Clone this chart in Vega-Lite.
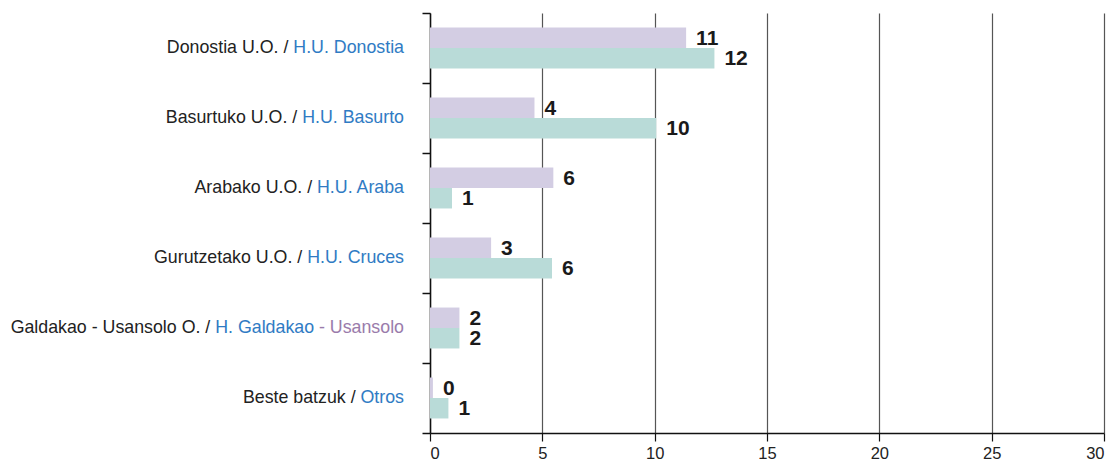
{
  "$schema": "https://vega.github.io/schema/vega-lite/v6.json",
  "autosize": "none",
  "width": 674,
  "height": 420,
  "padding": {"left": 430, "top": 13, "right": 11, "bottom": 29},
  "background": "white",
  "config": {"view": {"stroke": null}, "font": "Liberation Sans"},
  "datasets": {
    "bars": [
      {"cat": "Donostia U.O. / H.U. Donostia", "series": "A", "value": 11.4, "label": "11"},
      {"cat": "Donostia U.O. / H.U. Donostia", "series": "B", "value": 12.66, "label": "12"},
      {"cat": "Basurtuko U.O. / H.U. Basurto", "series": "A", "value": 4.65, "label": "4"},
      {"cat": "Basurtuko U.O. / H.U. Basurto", "series": "B", "value": 10.07, "label": "10"},
      {"cat": "Arabako U.O. / H.U. Araba", "series": "A", "value": 5.49, "label": "6"},
      {"cat": "Arabako U.O. / H.U. Araba", "series": "B", "value": 0.98, "label": "1"},
      {"cat": "Gurutzetako U.O. / H.U. Cruces", "series": "A", "value": 2.72, "label": "3"},
      {"cat": "Gurutzetako U.O. / H.U. Cruces", "series": "B", "value": 5.43, "label": "6"},
      {"cat": "Galdakao - Usansolo O. / H. Galdakao - Usansolo", "series": "A", "value": 1.31, "label": "2"},
      {"cat": "Galdakao - Usansolo O. / H. Galdakao - Usansolo", "series": "B", "value": 1.31, "label": "2"},
      {"cat": "Beste batzuk / Otros", "series": "A", "value": 0.13, "label": "0"},
      {"cat": "Beste batzuk / Otros", "series": "B", "value": 0.82, "label": "1"}
    ],
    "names": [
      {"cat": "Donostia U.O. / H.U. Donostia", "blue": "H.U. Donostia", "purple": ""},
      {"cat": "Basurtuko U.O. / H.U. Basurto", "blue": "H.U. Basurto", "purple": ""},
      {"cat": "Arabako U.O. / H.U. Araba", "blue": "H.U. Araba", "purple": ""},
      {"cat": "Gurutzetako U.O. / H.U. Cruces", "blue": "H.U. Cruces", "purple": ""},
      {"cat": "Galdakao - Usansolo O. / H. Galdakao - Usansolo", "blue": "H. Galdakao - Usansolo", "purple": "- Usansolo"},
      {"cat": "Beste batzuk / Otros", "blue": "Otros", "purple": ""}
    ]
  },
  "encoding": {
    "y": {
      "field": "cat",
      "type": "nominal",
      "scale": {
        "domain": [
          "Donostia U.O. / H.U. Donostia",
          "Basurtuko U.O. / H.U. Basurto",
          "Arabako U.O. / H.U. Araba",
          "Gurutzetako U.O. / H.U. Cruces",
          "Galdakao - Usansolo O. / H. Galdakao - Usansolo",
          "Beste batzuk / Otros"
        ],
        "paddingInner": 0,
        "paddingOuter": 0
      },
      "axis": {
        "title": null,
        "labels": false,
        "tickBand": "extent",
        "ticks": true,
        "tickSize": 8,
        "tickColor": "#111111",
        "tickWidth": 1.5,
        "domainColor": "#111111",
        "domainWidth": 1.5,
        "grid": false
      }
    }
  },
  "layer": [
    {
      "data": {"name": "bars"},
      "mark": {"type": "bar"},
      "encoding": {
        "yOffset": {"field": "series", "type": "nominal", "scale": {"domain": ["A", "B"], "paddingInner": 0, "paddingOuter": 0.71}},
        "x": {
          "field": "value",
          "type": "quantitative",
          "scale": {"domain": [0, 30], "nice": false, "zero": true},
          "axis": {
            "title": null,
            "values": [0, 5, 10, 15, 20, 25, 30],
            "grid": true,
            "gridColor": "#555555",
            "gridWidth": 1.2,
            "domainColor": "#111111",
            "domainWidth": 1.5,
            "tickColor": "#111111",
            "tickSize": 8,
            "tickWidth": 1.2,
            "labelFontSize": 16.5,
            "labelColor": "#222222",
            "labelPadding": 4,
            "labelFont": "Liberation Sans"
          }
        },
        "color": {
          "field": "series",
          "type": "nominal",
          "scale": {"domain": ["A", "B"], "range": ["#d3cde3", "#b9dbd8"]},
          "legend": null
        }
      }
    },
    {
      "data": {"name": "bars"},
      "mark": {"type": "text", "align": "left", "baseline": "middle", "dx": 10, "dy": 1, "fontSize": 21, "fontWeight": "bold", "color": "#1a1a1a", "font": "Liberation Sans"},
      "encoding": {
        "yOffset": {"field": "series", "type": "nominal"},
        "x": {"field": "value", "type": "quantitative"},
        "text": {"field": "label"}
      }
    },
    {
      "data": {"name": "names"},
      "mark": {"type": "text", "align": "right", "baseline": "middle", "dx": -26, "fontSize": 17.8, "color": "#222222", "font": "Liberation Sans"},
      "encoding": {
        "x": {"datum": 0},
        "text": {"field": "cat"}
      }
    },
    {
      "data": {"name": "names"},
      "mark": {"type": "text", "align": "right", "baseline": "middle", "dx": -26, "fontSize": 17.8, "color": "white", "stroke": "white", "strokeWidth": 1.6, "font": "Liberation Sans"},
      "encoding": {
        "x": {"datum": 0},
        "text": {"field": "blue"}
      }
    },
    {
      "data": {"name": "names"},
      "mark": {"type": "text", "align": "right", "baseline": "middle", "dx": -26, "fontSize": 17.8, "color": "#2f7bc4", "font": "Liberation Sans"},
      "encoding": {
        "x": {"datum": 0},
        "text": {"field": "blue"}
      }
    },
    {
      "data": {"name": "names"},
      "mark": {"type": "text", "align": "right", "baseline": "middle", "dx": -26, "fontSize": 17.8, "color": "white", "stroke": "white", "strokeWidth": 1.6, "font": "Liberation Sans"},
      "encoding": {
        "x": {"datum": 0},
        "text": {"field": "purple"}
      }
    },
    {
      "data": {"name": "names"},
      "mark": {"type": "text", "align": "right", "baseline": "middle", "dx": -26, "fontSize": 17.8, "color": "#9a7bab", "font": "Liberation Sans"},
      "encoding": {
        "x": {"datum": 0},
        "text": {"field": "purple"}
      }
    }
  ]
}
